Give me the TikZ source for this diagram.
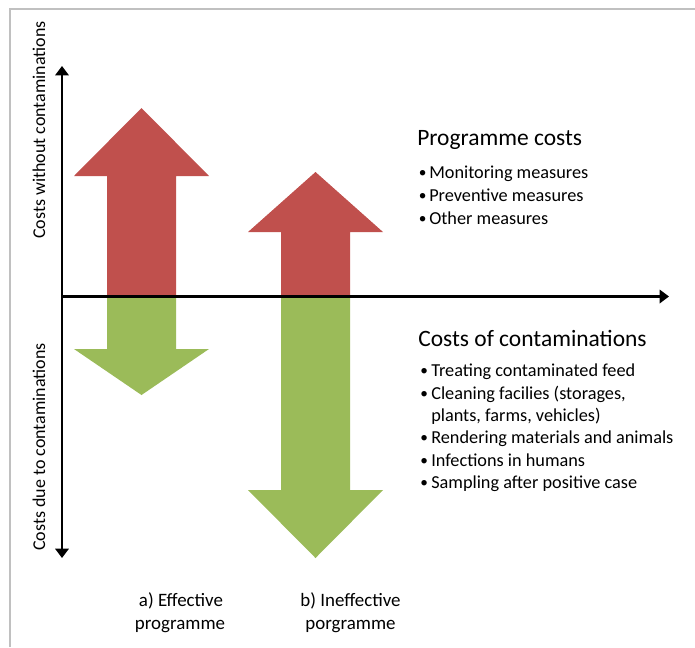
\documentclass[tikz,border=0pt]{standalone}
\usepackage{fontspec}
\setmainfont{Carlito}
\usetikzlibrary{arrows.meta}
\definecolor{costred}{HTML}{C0504D}
\definecolor{costgreen}{HTML}{9BBB59}
\definecolor{frame}{HTML}{C0C0C0}
\tikzset{
  axisline/.style={line width=2.2pt, black, {Triangle[length=7pt,width=10pt]}-{Triangle[length=7pt,width=10pt]}},
  axisone/.style={line width=2.2pt, black, -{Triangle[length=7pt,width=10pt]}},
  redarrow/.style={fill=costred, draw=none},
  greenarrow/.style={fill=costgreen, draw=none},
  heading/.style={anchor=base west, inner sep=0pt, font=\fontsize{17.6pt}{21pt}\selectfont},
  item/.style={anchor=base west, inner sep=0pt, font=\fontsize{13.7pt}{16pt}\selectfont},
  bulletmark/.style={anchor=base west, inner sep=0pt, font=\fontsize{11.5pt}{14pt}\selectfont},
  bottomlabel/.style={anchor=base, inner sep=0pt, font=\fontsize{14.2pt}{17pt}\selectfont},
  sidelabel/.style={rotate=90, anchor=center, inner sep=0pt, font=\fontsize{13.5pt}{16pt}\selectfont},
}
\begin{document}
\begin{tikzpicture}[x=0.75pt,y=-0.75pt]
\useasboundingbox (0,0) rectangle (695,647);
% frame
\draw[frame, line width=1.2pt] (10,647) -- (10,9) -- (695,9);
% red arrows (programme costs)
\path[redarrow] (107,296.5) -- (107,176) -- (74,176) -- (141.5,108) -- (209,176) -- (176,176) -- (176,296.5) -- cycle;
\path[redarrow] (281,296.5) -- (281,232) -- (248,232) -- (315.5,172) -- (383,232) -- (350,232) -- (350,296.5) -- cycle;
% green arrows (costs of contaminations)
\path[greenarrow] (107,296.5) -- (107,349) -- (74,349) -- (141.5,395) -- (209,349) -- (176,349) -- (176,296.5) -- cycle;
\path[greenarrow] (281,296.5) -- (281,490) -- (248,490) -- (315.5,558) -- (383,490) -- (350,490) -- (350,296.5) -- cycle;
% axes
\coordinate (ytop) at (62,66);
\coordinate (ybot) at (62,558);
\coordinate (xorig) at (62,296.5);
\coordinate (xend) at (669,296.5);
\draw[axisline] (ybot) -- (ytop);
\draw[axisone] (xorig) -- (xend);
% side labels
\node[sidelabel] (lwithout) at (39,130) {Costs without contaminations};
\node[sidelabel] (ldue) at (39,447) {Costs due to contaminations};
% programme costs
\node[heading] (hprog) at (417,145.5) {Programme costs};
\node[bulletmark] (b1) at (418.5,177) {•};
\node[item] (t1) at (429,178) {Monitoring measures};
\node[bulletmark] (b2) at (418.5,200) {•};
\node[item] (t2) at (429,201) {Preventive measures};
\node[bulletmark] (b3) at (418.5,223) {•};
\node[item] (t3) at (429,224) {Other measures};
% costs of contaminations
\node[heading] (hcont) at (418,346) {Costs of contaminations};
\node[bulletmark] (c1b) at (420,375.5) {•};
\node[item] (c1) at (431,376.5) {Treating contaminated feed};
\node[bulletmark] (c2b) at (420,398.5) {•};
\node[item] (c2) at (431,399.5) {Cleaning facilies (storages,};
\node[item] (c2x) at (431,421.5) {plants, farms, vehicles)};
\node[bulletmark] (c3b) at (420,442.5) {•};
\node[item] (c3) at (431,443.5) {Rendering materials and animals};
\node[bulletmark] (c4b) at (420,465) {•};
\node[item] (c4) at (431,466) {Infections in humans};
\node[bulletmark] (c5b) at (420,487.5) {•};
\node[item] (c5) at (431,488.5) {Sampling after positive case};
% bottom labels
\node[bottomlabel] (la1) at (181,606.5) {a) Effective};
\node[bottomlabel] (la2) at (180,629) {programme};
\node[bottomlabel] (lb1) at (350.5,606.5) {b) Ineffective};
\node[bottomlabel] (lb2) at (350.5,629) {porgramme};
\end{tikzpicture}
\end{document}
